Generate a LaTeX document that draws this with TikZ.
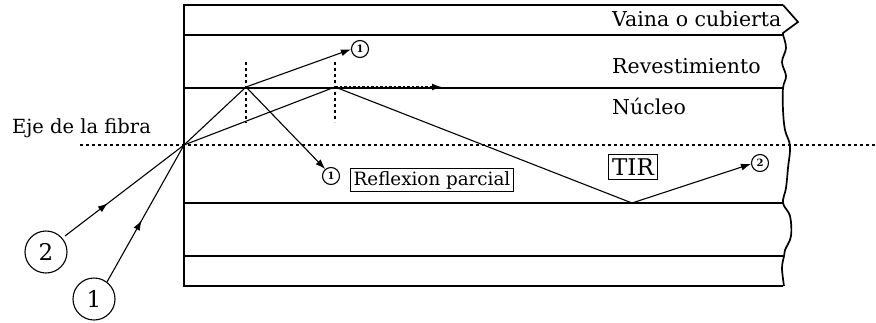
\documentclass[tikz,border=0pt]{standalone}
\usepackage{fontspec}
\setmainfont{DejaVu Serif}
\usetikzlibrary{arrows.meta,decorations.markings}
\begin{document}
\begin{tikzpicture}[x=1pt,y=-1pt,
  layer/.style={line width=1.7pt},
  ray/.style={line width=1.1pt},
  normal/.style={line width=1.1pt,dash pattern=on 3pt off 3pt},
  tip/.style={-{Latex[length=10pt,width=7pt]}},
  midtip/.style={postaction={decorate},decoration={markings,
      mark=at position #1 with {\arrow{Latex[length=10pt,width=7pt]}}}},
  label/.style={inner sep=0pt,font=\fontsize{20.5}{20.5}\selectfont},
  bigcirc/.style={circle,draw,line width=1.1pt,minimum size=42pt,inner sep=0pt,font=\fontsize{23}{23}\selectfont},
  smallcirc/.style={circle,draw,line width=1.1pt,minimum size=17pt,inner sep=0pt,font=\fontsize{10}{10}\selectfont\bfseries},
  boxed/.style={draw,line width=1.1pt,inner sep=2pt}]
\useasboundingbox (0,0) rectangle (876,322);

% fibre layers
\draw[layer] (783,5) -- (184,5) -- (184,286) -- (783,286);
\foreach \yy in {35,88,203,256}
  \draw[layer] (184,\yy) -- (783,\yy);
% torn end of the jacket and broken right edge
\draw[layer] (783,5) -- (798,22) -- (783,33) -- (783,35);
\draw[layer] plot[smooth,tension=0.6] coordinates {(783,35) (786,48) (782,62) (786,76) (783,88) (783,110)
  (785,130) (790,146) (788,168) (786,188) (783,203) (790,216) (791,236) (785,250) (784,256) (782,268) (784,286)};

% fibre axis
\draw[normal] (80,145) -- (876,145);

% points on the rays
\coordinate (entry) at (184,145);
\coordinate (hitA) at (246,87);
\coordinate (hitB) at (335,87);
\coordinate (hitC) at (632,203);
\coordinate (alongEnd) at (442,87);

% normals at the core boundary
\coordinate (nA1) at (246,62); \coordinate (nA2) at (246,123);
\coordinate (nB1) at (335,62); \coordinate (nB2) at (335,122);
\draw[normal] (nA1) -- (nA2);
\draw[normal] (nB1) -- (nB2);

% incoming rays
\node[bigcirc] (in2) at (46,252) {2};
\node[bigcirc] (in1) at (94,299) {1};
\coordinate (s2) at (65,236);
\coordinate (s1) at (107,282);
\draw[ray,midtip=0.36] (s2) -- (entry);
\draw[ray,midtip=0.45] (s1) -- (entry);

% ray 1: refraction and partial reflection
\node[smallcirc] (out1a) at (360,49) {1};
\node[smallcirc] (out1b) at (331,176) {1};
\draw[ray] (entry) -- (hitA);
\draw[ray,tip] (hitA) -- (out1a.182);
\draw[ray,tip] (hitA) -- (out1b.130);

% ray 2: critical angle and total internal reflection
\node[smallcirc] (out2) at (760,163) {2};
\draw[ray] (entry) -- (hitB);
\draw[line width=1.7pt,dash pattern=on 2.5pt off 2pt,tip] (hitB) -- (alongEnd);
\draw[ray] (hitB) -- (hitC);
\draw[ray,tip] (hitC) -- (out2.186);

% labels
\node[label,anchor=west] (vaina) at (612,19) {Vaina o cubierta};
\node[label,anchor=west] (reves) at (612,66) {Revestimiento};
\node[label,anchor=west] (nucleo) at (612,106) {Núcleo};
\node[label,anchor=west,font=\fontsize{19.5}{19.5}\selectfont] (eje) at (12,128) {Eje de la fibra};
\node[boxed,label,font=\fontsize{18.3}{18.3}\selectfont,inner sep=3pt] (refl) at (432,180) {Reflexion parcial};
\node[boxed,label,font=\fontsize{23}{23}\selectfont,inner sep=4pt] (tir) at (633,167) {TIR};
\end{tikzpicture}
\end{document}
